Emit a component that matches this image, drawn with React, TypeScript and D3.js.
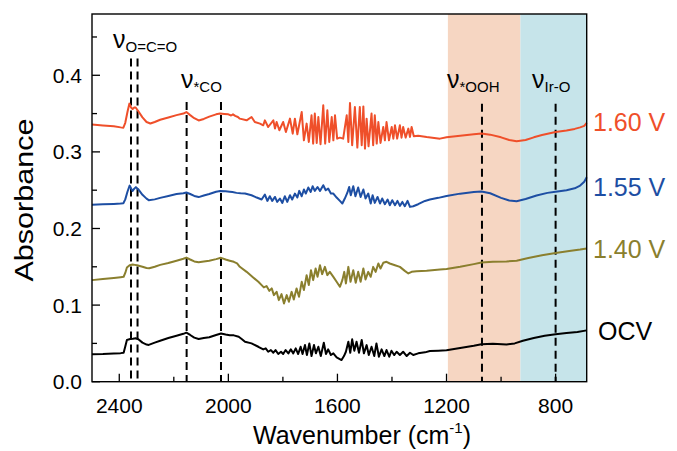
import React from "react";
import * as d3 from "d3";

type Pt = [number, number];

const seriesNames = ["1.60 V", "1.55 V", "1.40 V", "OCV"];
const seriesColors = ["#ef4f2a", "#1d4ea3", "#8a7f2e", "#000000"];

const red160: Pt[] = [
  [2500,0.3356],[2460,0.3345],[2420,0.3335],[2395,0.332],[2385,0.3315],[2378,0.338],[2370,0.352],[2363,0.363],[2357,0.358],[2351,0.356],[2345,0.358],[2340,0.358],[2330,0.353],[2315,0.345],[2300,0.339],[2286,0.337],[2270,0.339],[2250,0.342],[2220,0.345],[2190,0.348],[2165,0.35],[2154,0.352],[2140,0.348],[2125,0.344],[2109,0.341],[2090,0.343],[2070,0.346],[2045,0.349],[2030,0.35],[2015,0.3495],[2000,0.349],[1990,0.3475],[1983,0.349],[1975,0.347],[1965,0.3455],
  [1958,0.3434],[1933,0.3412],[1915,0.3455],[1903,0.339],[1884,0.3369],[1872,0.3347],[1866,0.3412],[1854,0.3325],[1835,0.3412],[1829,0.3304],[1823,0.339],[1813,0.3282],[1799,0.339],[1789,0.326],[1774,0.3434],[1764,0.3238],[1756,0.3434],[1747,0.323],[1731,0.352],[1723,0.3151],[1713,0.3369],[1705,0.313],[1695,0.3477],[1689,0.3108],[1683,0.35],[1676,0.3117],[1670,0.3455],[1662,0.31],[1652,0.3608],[1645,0.3108],[1637,0.3542],[1630,0.313],[1621,0.3455],[1615,0.3151],[1609,0.3477],[1601,0.3173],[1591,0.3186],[1579,0.3173],[1566,0.3477],[1560,0.313],[1554,0.3638],[1546,0.3086],[1536,0.3586],[1527,0.3056],[1518,0.3586],[1511,0.3086],[1505,0.3594],[1499,0.3043],[1493,0.3434],[1486,0.3073],[1475,0.35],[1469,0.3086],[1463,0.3477],[1456,0.3108],[1450,0.339],[1442,0.3117],[1432,0.3325],[1426,0.3151],[1420,0.339],[1411,0.3151],[1401,0.3325],[1395,0.3173],[1389,0.3347],[1381,0.3173],[1371,0.3347],[1365,0.3186],[1359,0.3325],[1350,0.3186],[1340,0.3304],[1334,0.3195],[1328,0.3325],[1320,0.3203],[1304,0.3212],[1273,0.3195],[1224,0.3173],
  [1200,0.319],[1150,0.321],[1100,0.323],[1072,0.324],[1040,0.3225],[1000,0.319],[970,0.3155],[943,0.314],[910,0.3155],[880,0.319],[850,0.322],[800,0.326],[760,0.328],[730,0.33],[710,0.332],[695,0.334],[686,0.338],
];

const blue155: Pt[] = [
  [2500,0.231],[2460,0.2315],[2420,0.232],[2395,0.2325],[2385,0.233],[2378,0.238],[2370,0.248],[2362,0.256],[2356,0.252],[2351,0.249],[2345,0.252],[2339,0.254],[2330,0.251],[2315,0.244],[2300,0.239],[2292,0.237],[2270,0.238],[2250,0.24],[2220,0.2425],[2190,0.245],[2165,0.246],[2154,0.247],[2140,0.245],[2125,0.2425],[2109,0.241],[2090,0.243],[2070,0.245],[2045,0.248],[2030,0.249],[2010,0.2485],[1995,0.248],[1985,0.2475],[1970,0.2465],[1955,0.246],[1939,0.2456],
  [1915,0.2434],[1896,0.2404],[1878,0.2378],[1866,0.2443],[1857,0.236],[1848,0.2421],[1839,0.236],[1829,0.2412],[1821,0.2347],[1811,0.2391],[1802,0.2334],[1793,0.2421],[1784,0.2347],[1774,0.2434],[1766,0.2378],[1756,0.2456],[1747,0.2404],[1740,0.2491],[1731,0.2421],[1723,0.2509],[1716,0.2456],[1707,0.2535],[1698,0.2477],[1691,0.2552],[1683,0.2491],[1673,0.2542],[1664,0.2491],[1652,0.2565],[1643,0.2499],[1634,0.2521],[1624,0.2456],[1615,0.2456],[1603,0.2404],[1591,0.236],[1582,0.2326],[1573,0.2391],[1564,0.2464],[1557,0.2542],[1551,0.2434],[1542,0.2552],[1534,0.2421],[1524,0.2535],[1515,0.2412],[1505,0.2509],[1497,0.2391],[1487,0.2456],[1478,0.2326],[1471,0.2434],[1463,0.2334],[1453,0.2412],[1444,0.2326],[1436,0.2391],[1426,0.2317],[1416,0.2378],[1408,0.2304],[1399,0.2369],[1389,0.2304],[1380,0.236],[1371,0.2295],[1362,0.2347],[1353,0.2291],[1343,0.236],[1334,0.2282],[1322,0.2291],[1304,0.2317],[1279,0.236],[1261,0.2378],
  [1230,0.24],[1200,0.2425],[1150,0.2455],[1100,0.2475],[1072,0.2482],[1040,0.246],[1000,0.24],[970,0.2365],[943,0.2355],[910,0.2385],[870,0.243],[830,0.2465],[800,0.248],[760,0.25],[730,0.2525],[710,0.256],[695,0.261],[686,0.267],
];

const olive140: Pt[] = [
  [2500,0.1326],[2460,0.134],[2420,0.1355],[2395,0.1365],[2384,0.137],[2378,0.142],[2372,0.149],[2362,0.152],[2351,0.153],[2343,0.1525],[2335,0.152],[2315,0.15],[2300,0.1485],[2290,0.148],[2270,0.15],[2250,0.1525],[2220,0.155],[2190,0.158],[2165,0.1605],[2154,0.162],[2140,0.1595],[2125,0.157],[2109,0.156],[2090,0.157],[2070,0.158],[2045,0.16],[2027,0.1617],[2010,0.1595],[1995,0.158],[1980,0.1565],[1968,0.1545],[1958,0.15],
  [1933,0.1434],[1909,0.1361],[1890,0.1304],[1878,0.1261],[1870,0.1231],[1860,0.1248],[1850,0.1186],[1841,0.1218],[1833,0.113],[1823,0.1173],[1815,0.1065],[1805,0.1143],[1796,0.1022],[1786,0.113],[1778,0.1043],[1768,0.1173],[1760,0.1074],[1750,0.1218],[1741,0.1108],[1731,0.1304],[1723,0.1196],[1713,0.1391],[1705,0.1261],[1697,0.1456],[1689,0.1326],[1680,0.1478],[1673,0.1369],[1664,0.1521],[1656,0.1404],[1646,0.1499],[1637,0.1391],[1628,0.1434],[1615,0.1369],[1603,0.1304],[1591,0.1239],[1582,0.1326],[1575,0.1434],[1569,0.1283],[1560,0.1499],[1552,0.1304],[1542,0.1456],[1533,0.1291],[1524,0.1434],[1515,0.1304],[1505,0.1478],[1497,0.1335],[1487,0.1434],[1478,0.1369],[1469,0.1499],[1460,0.1434],[1450,0.1543],[1442,0.1478],[1432,0.1552],[1420,0.1565],[1408,0.1543],[1389,0.1521],[1371,0.1499],[1353,0.1447],[1340,0.1413],[1328,0.1434],[1310,0.1443],[1273,0.1447],[1224,0.1465],
  [1200,0.147],[1150,0.15],[1100,0.1535],[1072,0.1555],[1030,0.1565],[980,0.157],[943,0.158],[900,0.1615],[850,0.165],[800,0.168],[750,0.1705],[710,0.1725],[686,0.174],
];

const blackOCV: Pt[] = [
  [2500,0.0357],[2460,0.036],[2420,0.0368],[2395,0.0373],[2384,0.0378],[2378,0.046],[2372,0.0545],[2360,0.0557],[2350,0.056],[2340,0.0567],[2330,0.0555],[2315,0.051],[2300,0.0485],[2292,0.048],[2270,0.051],[2250,0.0535],[2220,0.057],[2190,0.06],[2165,0.0625],[2154,0.064],[2140,0.061],[2125,0.0575],[2109,0.0557],[2090,0.057],[2070,0.058],[2045,0.061],[2027,0.063],[2010,0.0615],[1995,0.0605],[1980,0.0605],[1962,0.0587],[1950,0.0555],[1939,0.0522],
  [1915,0.05],[1890,0.0456],[1872,0.0422],[1863,0.0435],[1854,0.0391],[1844,0.0413],[1835,0.0378],[1827,0.0413],[1817,0.0361],[1807,0.0391],[1799,0.0361],[1790,0.0413],[1780,0.037],[1771,0.0422],[1762,0.037],[1753,0.0435],[1744,0.0361],[1735,0.0456],[1728,0.0361],[1719,0.0478],[1712,0.0348],[1703,0.05],[1695,0.0335],[1686,0.0478],[1679,0.037],[1670,0.0456],[1661,0.0335],[1650,0.0509],[1642,0.0361],[1634,0.0422],[1624,0.0348],[1615,0.037],[1603,0.0318],[1585,0.0283],[1576,0.0335],[1569,0.0391],[1560,0.0522],[1553,0.0378],[1546,0.0553],[1538,0.0404],[1530,0.0522],[1521,0.0378],[1511,0.0544],[1503,0.037],[1493,0.0478],[1485,0.0348],[1475,0.0456],[1465,0.0335],[1457,0.05],[1448,0.0326],[1438,0.0422],[1428,0.0335],[1420,0.0413],[1410,0.0326],[1402,0.0404],[1392,0.0348],[1383,0.0391],[1371,0.0348],[1359,0.0391],[1346,0.0335],[1334,0.0378],[1322,0.0348],[1304,0.037],[1279,0.0383],[1261,0.04],
  [1230,0.0405],[1200,0.041],[1150,0.044],[1100,0.047],[1072,0.049],[1030,0.0495],[980,0.0487],[950,0.05],[920,0.0535],[880,0.057],[840,0.06],[800,0.062],[760,0.0635],[720,0.065],[686,0.067],
];

const allSeries: Pt[][] = [red160, blue155, olive140, blackOCV];

const xMajorTicks = [2400, 2000, 1600, 1200, 800];
const xMinorTicks = [2200, 1800, 1400, 1000];
const yMajorTicks = [0, 0.1, 0.2, 0.3, 0.4];
const yMinorTicks = [0.05, 0.15, 0.25, 0.35, 0.45];

// bands: [from, to] wavenumber
const bandOOH: [number, number] = [1195, 929];
const bandIrO: [number, number] = [929, 686];

// dashed marker lines: wavenumber and top absorbance
const markerWaves = [2357, 2333, 2153, 2027, 1070, 800];
const markerTops = [0.422, 0.422, 0.365, 0.365, 0.363, 0.363];

const annotMain = ["ν", "ν", "ν", "ν"];
const annotSub = ["O=C=O", "*CO", "*OOH", "Ir-O"];

const FONT = "'Liberation Sans', Arial, Helvetica, sans-serif";

export default function App() {
  const W = 677, H = 451;
  const left = 92, right = 586.7, top = 14, bottom = 381.7;
  const x = d3.scaleLinear().domain([2500, 686]).range([left, right]);
  const y = d3.scaleLinear().domain([0, 0.48]).range([bottom, top]);
  const line = d3.line<Pt>().x((d) => x(d[0])).y((d) => y(d[1]));

  const annotPos = [
    { x: 113, y: 48 },
    { x: 181, y: 88 },
    { x: 447, y: 88 },
    { x: 532, y: 88 },
  ];
  const labelPos = [
    { x: 593, y: 131, fill: seriesColors[0] },
    { x: 593, y: 196, fill: seriesColors[1] },
    { x: 593, y: 258, fill: seriesColors[2] },
    { x: 598, y: 340, fill: seriesColors[3] },
  ];

  return (
    <svg width={W} height={H} style={{ position: "absolute", left: 0, top: 0, display: "block", background: "#fff" }} fontFamily={FONT}>
      <rect x={x(bandOOH[0])} y={top} width={x(bandOOH[1]) - x(bandOOH[0])} height={bottom - top} fill="#f6d6c2" />
      <rect x={x(bandIrO[0])} y={top} width={x(bandIrO[1]) - x(bandIrO[0])} height={bottom - top} fill="#c6e4ea" />

      {markerWaves.map((w, i) => (
        <line key={"m" + i} x1={x(w)} x2={x(w)} y1={y(markerTops[i])} y2={bottom} stroke="#000" strokeWidth={2} strokeDasharray="8,5" />
      ))}

      {allSeries.map((s, i) => (
        <path key={"s" + i} d={line(s) || ""} fill="none" stroke={seriesColors[i]} strokeWidth={2} strokeLinejoin="round" />
      ))}

      <rect x={left} y={top} width={right - left} height={bottom - top} fill="none" stroke="#000" strokeWidth={1.4} />

      {xMajorTicks.map((t) => (
        <g key={"xt" + t}>
          <line x1={x(t)} x2={x(t)} y1={bottom} y2={bottom - 8} stroke="#000" strokeWidth={1.3} />
          <text x={x(t)} y={413} textAnchor="middle" fontSize={21}>{t}</text>
        </g>
      ))}
      {xMinorTicks.map((t) => (
        <line key={"xm" + t} x1={x(t)} x2={x(t)} y1={bottom} y2={bottom - 5} stroke="#000" strokeWidth={1.3} />
      ))}
      {yMajorTicks.map((t) => (
        <g key={"yt" + t}>
          <line x1={left} x2={left + 8} y1={y(t)} y2={y(t)} stroke="#000" strokeWidth={1.3} />
          <text x={82} y={y(t)} dy="0.36em" textAnchor="end" fontSize={21}>{t.toFixed(1)}</text>
        </g>
      ))}
      {yMinorTicks.map((t) => (
        <line key={"ym" + t} x1={left} x2={left + 5} y1={y(t)} y2={y(t)} stroke="#000" strokeWidth={1.3} />
      ))}

      <text x={253} y={444} textAnchor="start" fontSize={25}>
        Wavenumber (cm<tspan fontSize={15} dy={-11}>-1</tspan><tspan dy={11}>)</tspan>
      </text>
      <text transform={`translate(33,200) rotate(-90)`} textAnchor="middle" fontSize={25} textLength={163} lengthAdjust="spacingAndGlyphs">Absorbance</text>

      {annotMain.map((m, i) => (
        <text key={"a" + i} x={annotPos[i].x} y={annotPos[i].y}>
          <tspan fontSize={25}>{m}</tspan>
          <tspan fontSize={15} dy={4}>{annotSub[i]}</tspan>
        </text>
      ))}

      {seriesNames.map((n, i) => (
        <text key={"l" + i} x={labelPos[i].x} y={labelPos[i].y} fontSize={25} fill={labelPos[i].fill}>{n}</text>
      ))}
    </svg>
  );
}
